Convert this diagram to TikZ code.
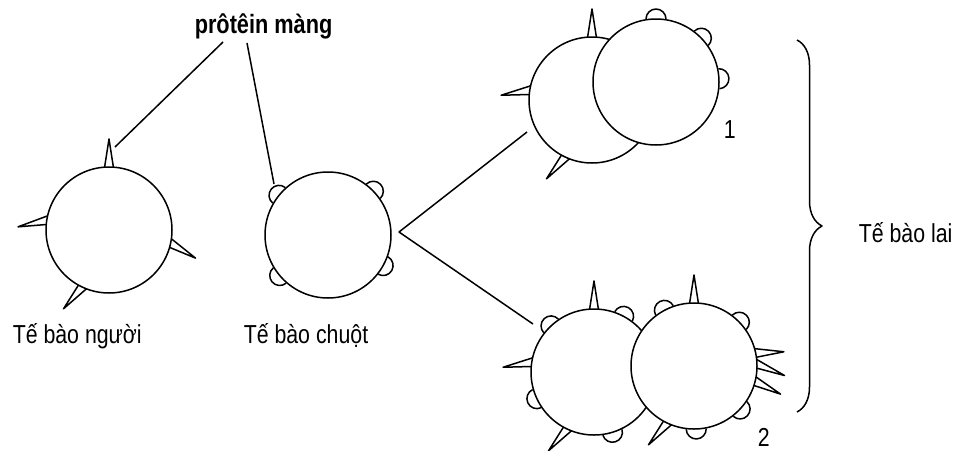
\documentclass[tikz,border=0pt]{standalone}
\usepackage{fontspec}
\setmainfont{Liberation Sans}[FakeStretch=0.82]
\usetikzlibrary{calc, decorations.pathreplacing}

% spike on a cell: cell, base angle, tip angle
\newcommand\spike[3]{\draw ($(#1)+(#2-4:63)$) -- ($(#1)+(#3:91)$) -- ($(#1)+(#2+4:63)$);}
% round membrane protein: cell, angle
\newcommand\bump[2]{\draw ($(#1)+(#2:63)+(#2-90:10)$) arc[start angle=#2-90, end angle=#2+90, radius=10];}

\tikzset{
  cell/.style={circle, draw, fill=white, minimum size=126pt, inner sep=0pt},
  lbl/.style={font=\fontsize{26}{30}\selectfont, inner sep=0pt, anchor=base west}
}

\begin{document}
\begin{tikzpicture}[x=1pt, y=1pt, line width=1.5pt, line join=round]
  \useasboundingbox (0,0) rectangle (958,-450);

  % human cell
  \node[cell] (nguoi) at (109,-230) {};
  \spike{nguoi}{90}{90} \spike{nguoi}{171}{178}
  \spike{nguoi}{-12}{-18} \spike{nguoi}{245}{240}

  % mouse cell
  \node[cell] (chuot) at (328,-235) {};
  \bump{chuot}{141} \bump{chuot}{44} \bump{chuot}{-29} \bump{chuot}{220}

  % hybrid 1
  \node[cell] (laiA) at (592,-100) {};
  \spike{laiA}{90}{90} \spike{laiA}{171}{177} \spike{laiA}{245}{240}
  \node[cell] (laiB) at (656,-82) {};
  \bump{laiB}{90} \bump{laiB}{44} \bump{laiB}{3}

  % hybrid 2
  \node[cell] (laiC) at (594,-372) {};
  \spike{laiC}{90}{90} \spike{laiC}{171}{177} \spike{laiC}{245}{240}
  \bump{laiC}{62} \bump{laiC}{133} \bump{laiC}{205} \bump{laiC}{287}
  \node[cell] (laiD) at (694,-366) {};
  \spike{laiD}{12}{9} \spike{laiD}{2}{-6} \spike{laiD}{-14}{-18}
  \spike{laiD}{90}{90} \spike{laiD}{245}{240}
  \bump{laiD}{118} \bump{laiD}{44} \bump{laiD}{-43} \bump{laiD}{-88}

  % labels
  \node[lbl, font=\fontsize{26.5}{30}\selectfont\bfseries] (prot) at (194,-33) {prôtêin màng};
  \node[lbl] (tbn) at (12,-343) {Tế bào người};
  \node[lbl] (tbc) at (243,-343) {Tế bào chuột};
  \node[lbl] (tbl) at (858,-242) {Tế bào lai};
  \node[lbl] (so1) at (723,-138) {1};
  \node[lbl] (so2) at (757,-446) {2};

  % pointers
  \coordinate (p1) at (223,-42);
  \coordinate (p2) at (247,-43);
  \coordinate (gai) at (115,-147);
  \coordinate (nut) at (274,-184);
  \coordinate (fork) at (399,-232);
  \coordinate (up) at (527,-132);
  \coordinate (down) at (533,-324);
  \draw (p1) -- (gai);
  \draw (p2) -- (nut);
  \draw (up) -- (fork) -- (down);

  % brace
  \coordinate (bt) at (797,-40);
  \coordinate (bb) at (797,-412);
  \draw[decorate, decoration={brace, amplitude=25pt}] (bt) -- (bb);
\end{tikzpicture}
\end{document}
